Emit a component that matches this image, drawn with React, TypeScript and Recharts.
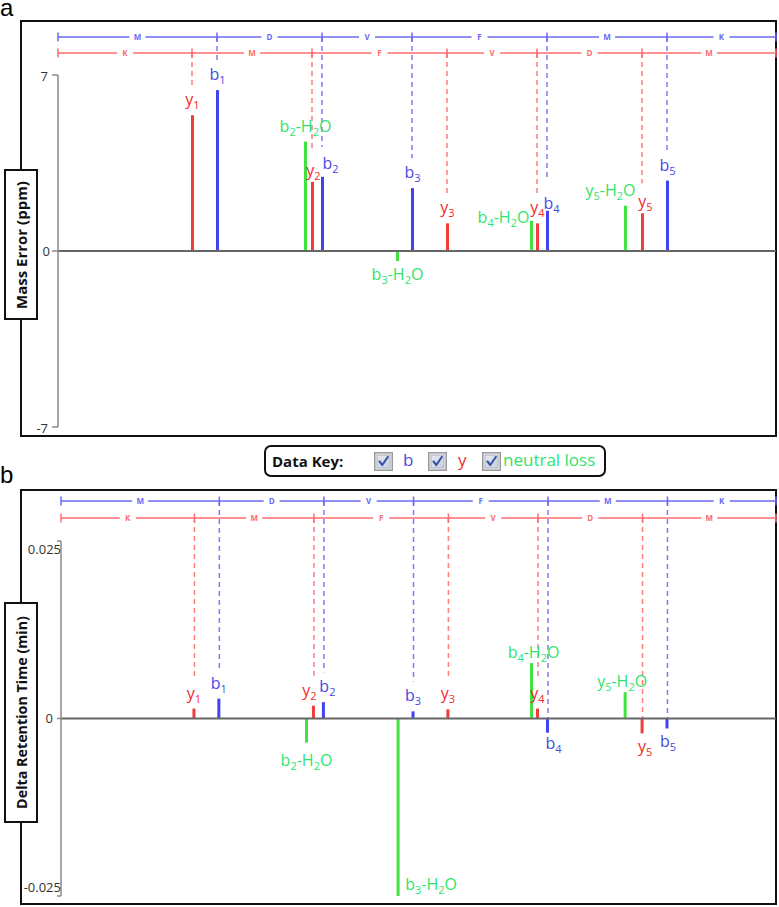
import React from 'react';
import { ComposedChart, Bar, Cell, XAxis, YAxis, ReferenceLine, ReferenceDot, LabelList } from 'recharts';

// ---------- data ----------
const sequence = ['M', 'D', 'V', 'F', 'M', 'K'];
const reversedSequence = ['K', 'M', 'F', 'V', 'D', 'M'];
const bCleavages = [0, 159, 264, 354, 489, 609, 718];
const yCleavages = [0, 134, 254, 389, 479, 584, 718];
const ionNames = ['y1', 'b1', 'b2-H2O', 'y2', 'b2', 'b3-H2O', 'b3', 'y3', 'b4-H2O', 'y4', 'b4', 'y5-H2O', 'y5', 'b5'];
const ionTypes = ['y', 'b', 'nl', 'y', 'b', 'nl', 'b', 'y', 'nl', 'y', 'b', 'nl', 'y', 'b'];
const ionPositions = [134, 159, 247, 254, 264, 339, 354, 389, 473, 479, 489, 567, 584, 609];
const massErrorPpm = [5.4, 6.4, 4.35, 2.75, 2.95, -0.4, 2.5, 1.1, 1.2, 1.1, 1.6, 1.8, 1.5, 2.8];
const deltaRtMin = [0.0014, 0.0028, -0.0034, 0.0018, 0.0023, -0.025, 0.001, 0.0013, 0.0078, 0.0014, -0.002, 0.0037, -0.0021, -0.0014];
const massTicks = [-7, 0, 7];
const rtTicks = [-0.025, 0, 0.025];
const xDomain = [0, 718];

// ---------- styles ----------
const FONT = '"Open Sans", "Noto Sans", sans-serif';
const BAR_COLORS: Record<string, string> = { b: '#4242ee', y: '#f23c3c', nl: '#3fe23f' };
const TEXT_COLORS: Record<string, string> = { b: '#4848e4', y: '#f52a2a', nl: '#2fe46c' };
const LADDER_COLORS: Record<string, string> = { b: '#6a6af2', y: '#ff6c6c' };
const DASH_COLORS: Record<string, string> = { b: '#7c7cfa', y: '#ff7e7e' };

type Row = { name: string; type: string; x: number; v: number };
const buildRows = (values: number[]): Row[] =>
  ionNames.map((name, i) => ({ name, type: ionTypes[i], x: ionPositions[i], v: values[i] }));
const massRows = buildRows(massErrorPpm);
const rtRows = buildRows(deltaRtMin);

const topShifts: Record<string, [number, number]> = {
  b2: [8, 2],
  y2: [1, 4],
  'b4-H2O': [-28, 12],
  b4: [4, 8],
  'y5-H2O': [-15, 0],
  y5: [3, 4],
};
const bottomShifts: Record<string, [number, number]> = {
  b2: [4, 0],
  y2: [-4, 0],
  'b3-H2O': [33, -25],
  'b2-H2O': [0, 4],
  'b4-H2O': [2, 5],
  'y5-H2O': [-3, 5],
  b4: [6, -3],
  y5: [3, 0],
  b5: [1, 0],
};

function IonText({ x, y, name, color }: { x: number; y: number; name: string; color: string }) {
  const parts = name.match(/\d+|\D+/g) || [];
  return (
    <text x={x} y={y} textAnchor="middle" fill={color} fontSize={16} fontFamily={FONT}>
      {parts.map((p, i) =>
        /\d/.test(p) ? (
          <tspan key={i} dy={4} fontSize={11}>{p}</tspan>
        ) : (
          <tspan key={i} dy={i === 0 ? 0 : -4}>{p}</tspan>
        )
      )}
    </text>
  );
}

const makeIonLabel = (rows: Row[], shifts: Record<string, [number, number]>) => (props: any) => {
  const vb = props.viewBox && props.viewBox.width !== undefined ? props.viewBox : props;
  const row = rows.find((r) => r.name === props.value);
  if (!row || vb == null) return null;
  const y1 = Number(vb.y);
  const y2 = Number(vb.y) + Number(vb.height);
  const top = Math.min(y1, y2);
  const bottom = Math.max(y1, y2);
  const cx = Number(vb.x) + Number(vb.width) / 2;
  const [dx, dy] = shifts[row.name] || [0, 0];
  const baseY = row.v >= 0 ? top - 10 : bottom + 19;
  return <IonText x={cx + dx} y={baseY + dy} name={row.name} color={TEXT_COLORS[row.type]} />;
};

const residueShape = (letter: string, color: string) => (p: any) => (
  <g>
    <rect x={p.cx - 8} y={p.cy - 5} width={16} height={10} fill="#fff" />
    <text x={p.cx} y={p.cy + 3} textAnchor="middle" fontSize={8} fontWeight="bold" fill={color} fontFamily={FONT}>
      {letter}
    </text>
  </g>
);

function ladder(prefix: string, cuts: number[], letters: string[], yVal: number, tickHalf: number, color: string) {
  const out: React.ReactNode[] = [];
  for (let i = 0; i < letters.length; i++) {
    out.push(
      <ReferenceLine
        key={`${prefix}-seg-${i}`}
        segment={[{ x: cuts[i], y: yVal }, { x: cuts[i + 1], y: yVal }]}
        stroke={color}
        strokeWidth={1.5}
        ifOverflow="visible"
      />
    );
  }
  for (let i = 0; i < cuts.length; i++) {
    out.push(
      <ReferenceLine
        key={`${prefix}-tick-${i}`}
        segment={[{ x: cuts[i], y: yVal - tickHalf }, { x: cuts[i], y: yVal + tickHalf }]}
        stroke={color}
        strokeWidth={1.5}
        ifOverflow="visible"
      />
    );
  }
  for (let i = 0; i < letters.length; i++) {
    out.push(
      <ReferenceDot
        key={`${prefix}-res-${i}`}
        x={(cuts[i] + cuts[i + 1]) / 2}
        y={yVal}
        r={0}
        ifOverflow="visible"
        shape={residueShape(letters[i], color)}
      />
    );
  }
  return out;
}

type PanelProps = {
  rows: Row[];
  domain: [number, number];
  ticks: number[];
  height: number;
  marginTop: number;
  marginBottom: number;
  axisWidth: number;
  tickSize: number;
  tickMargin: number;
  shifts: Record<string, [number, number]>;
  bLadderPx: number; // px above plot top
  yLadderPx: number;
  tickShift: (v: number) => [number, number];
};

function Panel(props: PanelProps) {
  const { rows, domain, ticks, height, marginTop, marginBottom, axisWidth, shifts, tickShift } = props;
  const plotH = height - marginTop - marginBottom;
  const upx = (domain[1] - domain[0]) / plotH;
  const bY = domain[1] + props.bLadderPx * upx;
  const yY = domain[1] + props.yLadderPx * upx;
  const ladderY: Record<string, number> = { b: bY, y: yY };
  const renderTick = (p: any) => {
    const v = Number(p.payload.value);
    const [dx, dy] = tickShift(v);
    return (
      <text x={p.x + dx} y={p.y + dy} dy="0.355em" textAnchor="end" fontSize={13} fill="#333" fontFamily={FONT}>
        {String(v)}
      </text>
    );
  };
  return (
    <ComposedChart
      width={779}
      height={height}
      data={rows}
      margin={{ top: marginTop, right: 3, bottom: marginBottom, left: 0 }}
      style={{ fontFamily: FONT }}
    >
      <XAxis type="number" dataKey="x" domain={xDomain} hide allowDataOverflow />
      <YAxis
        type="number"
        domain={domain}
        ticks={ticks}
        interval={0}
        width={axisWidth}
        allowDataOverflow
        axisLine={{ stroke: '#8a8a8a', strokeWidth: 1.5 }}
        tickLine={{ stroke: '#8a8a8a', strokeWidth: 1.5 }}
        tickSize={props.tickSize}
        tickMargin={props.tickMargin}
        tick={renderTick}
      />
      {rows
        .filter((r) => r.type !== 'nl')
        .map((r) => (
          <ReferenceLine
            key={`dash-${r.name}`}
            segment={[
              { x: r.x, y: ladderY[r.type] },
              { x: r.x, y: r.v >= 0 ? r.v + 30 * upx : 0 },
            ]}
            stroke={DASH_COLORS[r.type]}
            strokeWidth={1.5}
            strokeDasharray="5 4"
            ifOverflow="visible"
          />
        ))}
      {ladder('b', bCleavages, sequence, bY, 4.5 * upx, LADDER_COLORS.b)}
      {ladder('y', yCleavages, reversedSequence, yY, 4.5 * upx, LADDER_COLORS.y)}
      <ReferenceLine y={0} stroke="#666" strokeWidth={2} />
      <Bar dataKey="v" barSize={3} isAnimationActive={false}>
        {rows.map((r) => (
          <Cell key={r.name} fill={BAR_COLORS[r.type]} />
        ))}
        <LabelList dataKey="name" content={makeIonLabel(rows, shifts)} />
      </Bar>
    </ComposedChart>
  );
}

const abs = (s: React.CSSProperties): React.CSSProperties => ({ position: 'absolute', boxSizing: 'border-box', ...s });

function AxisTitle({ top, height, text, fontSize }: { top: number; height: number; text: string; fontSize: number }) {
  return (
    <div
      style={abs({
        left: 4,
        top,
        width: 34,
        height,
        border: '2px solid #111',
        background: '#fff',
        display: 'flex',
        alignItems: 'center',
        justifyContent: 'center',
      })}
    >
      <div
        style={{
          transform: 'rotate(-90deg)',
          whiteSpace: 'nowrap',
          fontFamily: FONT,
          fontWeight: 'bold',
          fontSize,
          color: '#111',
        }}
      >
        {text}
      </div>
    </div>
  );
}

function CheckBox({ left }: { left: number }) {
  return (
    <svg style={abs({ left, top: 5 })} width={19} height={19} viewBox="0 0 19 19">
      <defs>
        <linearGradient id={`cbg${left}`} x1="0" y1="0" x2="1" y2="1">
          <stop offset="0" stopColor="#e6eaf2" />
          <stop offset="1" stopColor="#c9d0de" />
        </linearGradient>
      </defs>
      <rect x={0.75} y={0.75} width={17.5} height={17.5} fill="#f2f2f2" stroke="#9a9a9a" strokeWidth={1.5} />
      <rect x={3} y={3} width={13} height={13} fill={`url(#cbg${left})`} stroke="#aab3c4" strokeWidth={1} />
      <path d="M5.5 9.5 L8.3 13 L13.8 5" fill="none" stroke="#3a56a8" strokeWidth={2.2} strokeLinecap="round" strokeLinejoin="round" />
    </svg>
  );
}

const topTickShift = (v: number): [number, number] => (v === 0 ? [2, 0] : [0, 1]);
const bottomTickShift = (v: number): [number, number] =>
  v === 0 ? [-2, 0] : v > 0 ? [6, 8] : [6, -9];

export default function App() {
  return (
    <div style={abs({ left: 0, top: 0, width: 779, height: 907, background: '#fff', overflow: 'hidden' })}>
      {/* frames */}
      <div style={abs({ left: 20, top: 20, width: 757, height: 417, border: '2px solid #111' })} />
      <div style={abs({ left: 20, top: 489, width: 757, height: 416, border: '2px solid #111' })} />
      {/* panel letters */}
      <div style={abs({ left: 0, top: 0, fontFamily: '"Liberation Sans", Arial, sans-serif', fontSize: 24, lineHeight: '16px' })}>a</div>
      <div style={abs({ left: 0, top: 467, fontFamily: '"Liberation Sans", Arial, sans-serif', fontSize: 24, lineHeight: '16px' })}>b</div>
      {/* charts */}
      <div style={abs({ left: 0, top: 0 })}>
        <Panel
          rows={massRows}
          domain={[-7, 7]}
          ticks={massTicks}
          height={440}
          marginTop={75}
          marginBottom={13}
          axisWidth={58}
          tickSize={6}
          tickMargin={4}
          shifts={topShifts}
          bLadderPx={38}
          yLadderPx={22}
          tickShift={topTickShift}
        />
      </div>
      <div style={abs({ left: 0, top: 480 })}>
        <Panel
          rows={rtRows}
          domain={[-0.025, 0.025]}
          ticks={rtTicks}
          height={427}
          marginTop={61}
          marginBottom={11}
          axisWidth={61}
          tickSize={4}
          tickMargin={2}
          shifts={bottomShifts}
          bLadderPx={40}
          yLadderPx={23}
          tickShift={bottomTickShift}
        />
      </div>
      {/* axis titles */}
      <AxisTitle top={169} height={151} text="Mass Error (ppm)" fontSize={15} />
      <AxisTitle top={602} height={221} text="Delta Retention Time (min)" fontSize={14.3} />
      {/* data key */}
      <div
        style={abs({
          left: 264,
          top: 445,
          width: 342,
          height: 32,
          border: '2px solid #111',
          borderRadius: 7,
          background: '#fff',
          fontFamily: FONT,
        })}
      >
        <div style={abs({ left: 6, top: 4, fontSize: 15, fontWeight: 'bold', color: '#111', lineHeight: '20px' })}>Data Key:</div>
        <CheckBox left={108} />
        <div style={abs({ left: 137, top: 2, fontSize: 17, color: TEXT_COLORS.b, lineHeight: '22px' })}>b</div>
        <CheckBox left={162} />
        <div style={abs({ left: 192, top: 2, fontSize: 17, color: TEXT_COLORS.y, lineHeight: '22px' })}>y</div>
        <CheckBox left={216} />
        <div style={abs({ left: 237, top: 2, fontSize: 17, color: TEXT_COLORS.nl, lineHeight: '22px' })}>neutral loss</div>
      </div>
    </div>
  );
}
